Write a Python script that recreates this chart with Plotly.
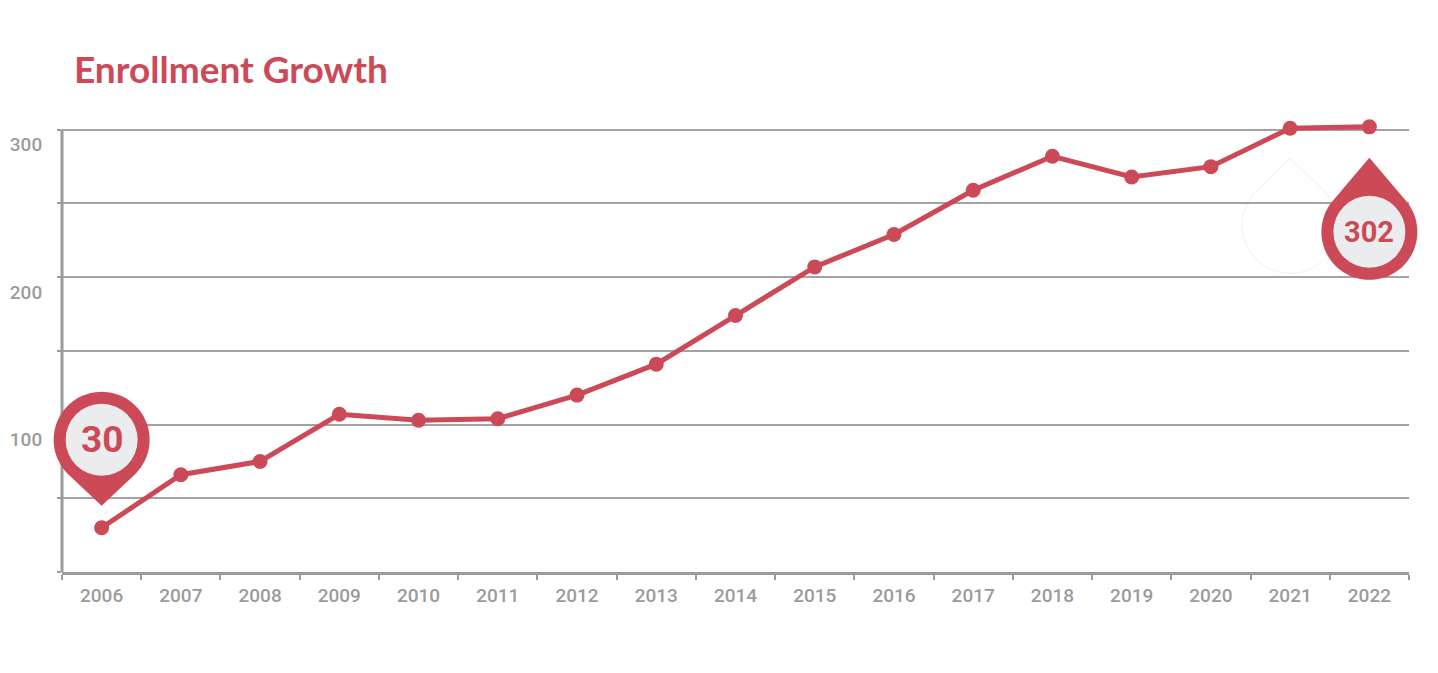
import math
import plotly.graph_objects as go

# ---- data ----
years = [str(y) for y in range(2006, 2023)]
enrollment = [30, 66, 75, 107, 103, 104, 120, 141, 174, 207, 229, 259, 282, 268, 275, 301, 302]
y_tickvals = [0, 50, 100, 150, 200, 250, 300]
y_ticktext = ["", "", "100", "", "200", "", "300"]
title_text = "Enrollment Growth"

Y_MAX = 308
RED = "#cc4a57"
GRAY = "#9b9b9b"
INNER = "#eaeced"


def pin_path(center_dy, tip_dy, R, n=72):
    """Teardrop outline in pixel offsets (y up) relative to the anchor."""
    D = abs(tip_dy - center_dy)
    alpha = math.acos(R / D)
    phi0 = math.pi / 2 if tip_dy > center_dy else -math.pi / 2
    start = phi0 + alpha
    end = phi0 + 2 * math.pi - alpha
    pts = [(0.0, tip_dy)]
    for i in range(n + 1):
        a = start + (end - start) * i / n
        pts.append((R * math.cos(a), center_dy + R * math.sin(a)))
    return "M " + " L ".join(f"{x:.2f},{y:.2f}" for x, y in pts) + " Z"


fig = go.Figure()
fig.add_trace(go.Scatter(
    x=years, y=enrollment, mode="lines+markers",
    line=dict(color=RED, width=5),
    marker=dict(color=RED, size=15),
    cliponaxis=False, hoverinfo="x+y", showlegend=False,
))

shapes = []
annotations = []

# vertical axis line spanning only the tick range (0 .. top tick)
shapes.append(dict(type="line", xref="paper", yref="y", x0=0, x1=0,
                   y0=y_tickvals[0], y1=y_tickvals[-1],
                   line=dict(color=GRAY, width=3), layer="above"))


def add_pin(idx, center_dy, tip_dy, font_size, R=48, r_in=36, faint=False):
    # anchor at the data point, expressed through the axis ranges (category range -0.5..n-0.5)
    px = (idx + 0.5) / len(years)
    py = enrollment[idx] / Y_MAX
    base = dict(xref="paper", yref="paper", xsizemode="pixel", ysizemode="pixel",
                xanchor=px, yanchor=py, layer="above")
    if faint:
        shapes.append(dict(type="path", path=pin_path(center_dy, tip_dy, R),
                           fillcolor="rgba(0,0,0,0)",
                           line=dict(color="rgba(204,74,87,0.07)", width=1.5), **base))
        return
    shapes.append(dict(type="path", path=pin_path(center_dy, tip_dy, R),
                       fillcolor=RED, line=dict(width=0), **base))
    shapes.append(dict(type="circle", x0=-r_in, x1=r_in,
                       y0=center_dy - r_in, y1=center_dy + r_in,
                       fillcolor=INNER, line=dict(width=0), **base))
    annotations.append(dict(x=idx, y=enrollment[idx], xref="x", yref="y",
                            yshift=center_dy, showarrow=False,
                            text=f"<b>{enrollment[idx]}</b>",
                            font=dict(family="Roboto", size=font_size, color=RED)))


add_pin(len(years) - 2, -97, -30, 28, faint=True)
add_pin(0, 88, 22, 37)
add_pin(len(years) - 1, -105, -31, 29)

fig.update_layout(
    width=1430, height=665,
    margin=dict(l=54, r=29, t=110, b=101, autoexpand=False),
    paper_bgcolor="white", plot_bgcolor="white",
    title=dict(text=f"<b>{title_text}</b>", x=66 / 1430, xref="container", xanchor="left",
               y=1 - 62 / 665, yref="container", yanchor="middle",
               font=dict(family="Lato", size=37, color=RED)),
    xaxis=dict(type="category", range=[-0.5, len(years) - 0.5], automargin=False,
               showline=True, linecolor=GRAY, linewidth=3,
               ticks="outside", tickson="boundaries", ticklen=5, tickwidth=2, tickcolor=GRAY,
               showgrid=False, zeroline=False, ticklabelstandoff=4,
               tickfont=dict(family="Roboto", size=19, color=GRAY, weight=500)),
    yaxis=dict(range=[0, Y_MAX], tickvals=y_tickvals, ticktext=y_ticktext, automargin=False,
               showgrid=True, gridcolor="#a3a3a3", gridwidth=2,
               showline=False, zeroline=False,
               ticks="outside", ticklen=4, tickwidth=2, tickcolor=GRAY,
               ticklabelshift=15, ticklabelstandoff=11,
               tickfont=dict(family="Roboto", size=19, color=GRAY, weight=500)),
    shapes=shapes, annotations=annotations,
)

fig.write_html("out.html")
